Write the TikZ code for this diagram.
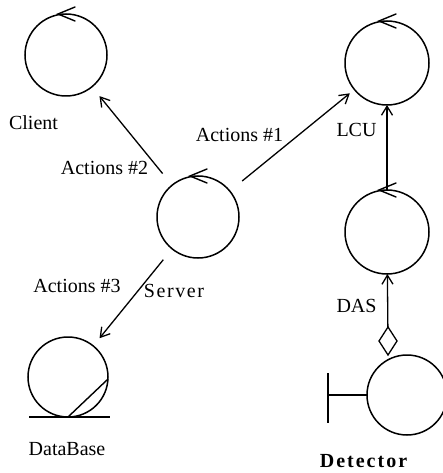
\documentclass[tikz,border=0pt]{standalone}
\usepackage{fontspec}
\setmainfont{Liberation Serif}
\usetikzlibrary{arrows.meta,shapes.geometric}

\begin{document}
\begin{tikzpicture}[x=1pt,y=-1pt,
  obj/.style={circle,draw,line width=1.5pt,inner sep=0pt,outer sep=0pt},
  lbl/.style={font=\fontsize{20}{24}\selectfont,inner sep=0pt,anchor=base},
  flow/.style={line width=1.3pt,-{Straight Barb[length=9pt,width=11pt,line width=1.3pt]}},
  plain/.style={line width=1.4pt},
  ]
\useasboundingbox (0,0) rectangle (443,473);

% objects
\node[obj,minimum size=82pt] (client) at (66,55) {};
\node[obj,minimum size=84pt] (lcu) at (387,63) {};
\node[obj,minimum size=82pt] (server) at (198,217) {};
\node[obj,minimum size=84pt] (das) at (387,232) {};
\node[obj,minimum size=80pt] (db) at (68,377) {};
\node[obj,minimum size=80pt] (det) at (407,395) {};
\node[diamond,draw,line width=1.3pt,minimum width=18pt,minimum height=28pt,inner sep=0pt,outer sep=0pt] (dia) at (388,341) {};

% control marks on top of the control objects
\foreach \n in {client,lcu,server,das}{
  \draw[plain,line cap=round] ([xshift=9pt,yshift=7pt]\n.north) -- ([xshift=-8pt]\n.north) -- ([xshift=9pt,yshift=-7pt]\n.north);
}

% entity (database) decoration
\draw[plain] ([xshift=-39pt]db.south) -- ([xshift=42pt]db.south);
\draw[plain] (db.south) -- (db.-3);

% interface on the detector
\coordinate (stem) at (328,395);
\draw[plain] (det.west) -- (stem);
\draw[plain] ([yshift=22pt]stem) -- ([yshift=-28pt]stem);

% connectors
\draw[flow,shorten <=15pt,shorten >=12pt] (server) -- (client);
\draw[flow,shorten <=16pt,shorten >=6pt] (server) -- (lcu);
\draw[flow,shorten <=14pt,shorten >=10pt] (server) -- (db);
\draw[flow] (das) -- (lcu);
\draw[flow] (dia) -- (das);

% labels
\node[lbl] (tclient) at (33.5,130) {Client};
\node[lbl] (tlcu) at (356.5,137) {LCU};
\node[lbl] (ta1) at (239.5,142) {Actions \#1};
\node[lbl] (ta2) at (104.5,175) {Actions \#2};
\node[lbl] (ta3) at (77,292) {Actions \#3};
\node[lbl,font=\fontsize{20}{24}\selectfont\addfontfeature{LetterSpace=8}] (tserver) at (174,297) {Server};
\node[lbl] (tdas) at (356.5,312) {DAS};
\node[lbl] (tdb) at (67,455) {DataBase};
\node[lbl,font=\fontsize{20}{24}\selectfont\bfseries\addfontfeature{LetterSpace=10}] (tdet) at (363.5,467) {Detector};
\end{tikzpicture}
\end{document}
